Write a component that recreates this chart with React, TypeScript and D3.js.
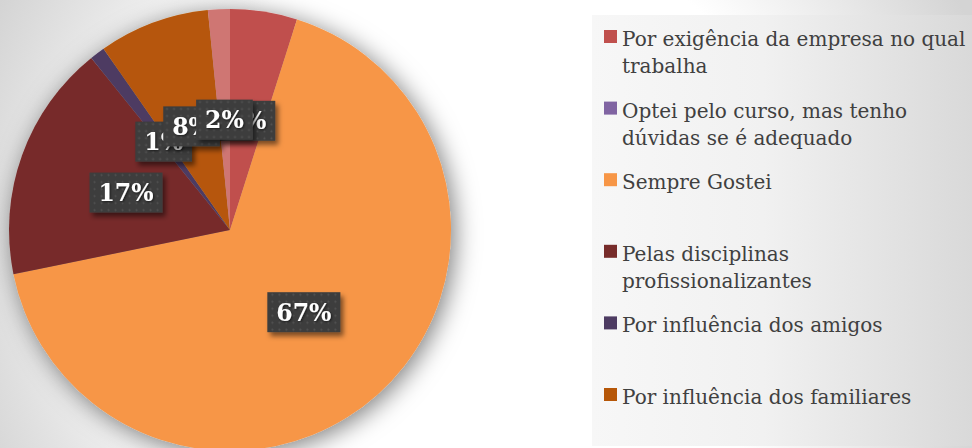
import React, { useEffect, useRef } from 'react';
import * as d3 from 'd3';

// Slices in the order they appear clockwise from 12 o'clock
const sliceNames = [
  'Por exigência da empresa no qual trabalha',
  'Sempre Gostei',
  'Pelas disciplinas profissionalizantes',
  'Por influência dos amigos',
  'Por influência dos familiares',
  'Optei pelo curso, mas tenho dúvidas se é adequado',
];
const sliceValues = [4.9, 66.9, 17.4, 1.1, 8.1, 1.6];
const sliceColors = ['#C0504D', '#F79646', '#772C2A', '#4D3B62', '#B65708', '#CF7673'];

// Legend, in the order of the original
const legendLines = [
  ['Por exigência da empresa no qual', 'trabalha'],
  ['Optei pelo curso, mas tenho', 'dúvidas se é adequado'],
  ['Sempre Gostei'],
  ['Pelas disciplinas', 'profissionalizantes'],
  ['Por influência dos amigos'],
  ['Por influência dos familiares'],
];
const legendColors = ['#C0504D', '#8064A2', '#F79646', '#772C2A', '#4D3B62', '#B65708'];

const W = 972;
const H = 448;

const PieChart = () => {
  const ref = useRef<SVGSVGElement>(null);

  useEffect(() => {
    const svg = d3.select(ref.current);
    svg.selectAll('*').remove();

    const defs = svg.append('defs');

    // Background: white centre fading to grey at the edges
    const bg = defs.append('radialGradient')
      .attr('id', 'bg')
      .attr('gradientUnits', 'userSpaceOnUse')
      .attr('cx', 480).attr('cy', 250).attr('r', 540);
    bg.append('stop').attr('offset', '0.6').attr('stop-color', '#ffffff');
    bg.append('stop').attr('offset', '1').attr('stop-color', '#d4d4d4');

    const lg = defs.append('linearGradient').attr('id', 'legbg');
    lg.append('stop').attr('offset', '0').attr('stop-color', '#f7f7f7');
    lg.append('stop').attr('offset', '0.45').attr('stop-color', '#f1f1f1');
    lg.append('stop').attr('offset', '1').attr('stop-color', '#d9d9d9');

    // Soft shadow under the pie
    const shadow = defs.append('filter').attr('id', 'pieShadow')
      .attr('x', '-30%').attr('y', '-30%').attr('width', '160%').attr('height', '160%');
    shadow.append('feDropShadow')
      .attr('dx', 4).attr('dy', 4)
      .attr('stdDeviation', 12)
      .attr('flood-color', '#000')
      .attr('flood-opacity', 0.5);

    const boxShadow = defs.append('filter').attr('id', 'boxShadow')
      .attr('x', '-30%').attr('y', '-30%').attr('width', '170%').attr('height', '170%');
    boxShadow.append('feDropShadow')
      .attr('dx', 3).attr('dy', 4)
      .attr('stdDeviation', 2.5)
      .attr('flood-color', '#000')
      .attr('flood-opacity', 0.5);

    const textShadow = defs.append('filter').attr('id', 'textShadow');
    textShadow.append('feDropShadow')
      .attr('dx', 1).attr('dy', 1)
      .attr('stdDeviation', 0.8)
      .attr('flood-color', '#000')
      .attr('flood-opacity', 0.6);

    // Dotted texture on the label boxes
    const pat = defs.append('pattern')
      .attr('id', 'dots')
      .attr('patternUnits', 'userSpaceOnUse')
      .attr('width', 7).attr('height', 7);
    pat.append('rect').attr('width', 7).attr('height', 7).attr('fill', '#3d3d3d');
    pat.append('circle').attr('cx', 3.5).attr('cy', 3.5).attr('r', 1).attr('fill', '#545454');

    svg.append('rect').attr('width', W).attr('height', H).attr('fill', 'url(#bg)');

    // Pie
    const cx = 230;
    const cy = 230;
    const radius = 221;

    const pie = d3.pie<number>().sort(null).value(d => d);
    const arcs = pie(sliceValues);
    const arc = d3.arc<d3.PieArcDatum<number>>().innerRadius(0).outerRadius(radius);
    const labelArc = d3.arc<d3.PieArcDatum<number>>().innerRadius(radius / 2).outerRadius(radius / 2);

    const g = svg.append('g').attr('transform', `translate(${cx}, ${cy})`);

    g.append('g')
      .attr('filter', 'url(#pieShadow)')
      .selectAll('path')
      .data(arcs)
      .enter()
      .append('path')
      .attr('d', arc)
      .attr('fill', (d, i) => sliceColors[i]);

    // Data labels, centred at half the radius
    const total = d3.sum(sliceValues);
    arcs.forEach((d, i) => {
      const [lx, ly] = labelArc.centroid(d);
      const label = `${Math.round((sliceValues[i] / total) * 100)}%`;
      const lbl = g.append('g').attr('transform', `translate(${lx}, ${ly})`);
      const box = lbl.append('rect').attr('fill', 'url(#dots)').attr('filter', 'url(#boxShadow)');
      const t = lbl.append('text')
        .attr('text-anchor', 'middle')
        .attr('dy', '0.36em')
        .attr('fill', '#ffffff')
        .attr('filter', 'url(#textShadow)')
        .style('font-family', 'DejaVu Serif')
        .style('font-weight', 'bold')
        .style('font-size', '23.5px')
        .text(label);
      const tw = (t.node() as SVGTextElement).getComputedTextLength();
      box.attr('x', -tw / 2 - 9).attr('y', -20).attr('width', tw + 18).attr('height', 40);
    });

    // Legend panel
    svg.append('rect')
      .attr('x', 592).attr('y', 15)
      .attr('width', W - 592).attr('height', 431)
      .attr('fill', 'url(#legbg)');

    const slot = d3.scaleLinear().domain([0, 1]).range([46, 46 + 71.6]);

    const legend = svg.append('g');
    legendLines.forEach((lines, i) => {
      const y = slot(i);
      legend.append('rect')
        .attr('x', 604).attr('y', y - 16)
        .attr('width', 13).attr('height', 13)
        .attr('fill', legendColors[i]);
      const txt = legend.append('text')
        .attr('x', 622).attr('y', y)
        .attr('fill', '#404040')
        .style('font-family', 'DejaVu Serif')
        .style('font-size', '20px');
      lines.forEach((line, j) => {
        txt.append('tspan').attr('x', 622).attr('y', y + j * 27).text(line);
      });
    });
  }, []);

  return (
    <svg
      ref={ref}
      width={W}
      height={H}
      style={{ position: 'absolute', left: 0, top: 0, display: 'block' }}
    />
  );
};

export default function App() {
  return <PieChart />;
}
